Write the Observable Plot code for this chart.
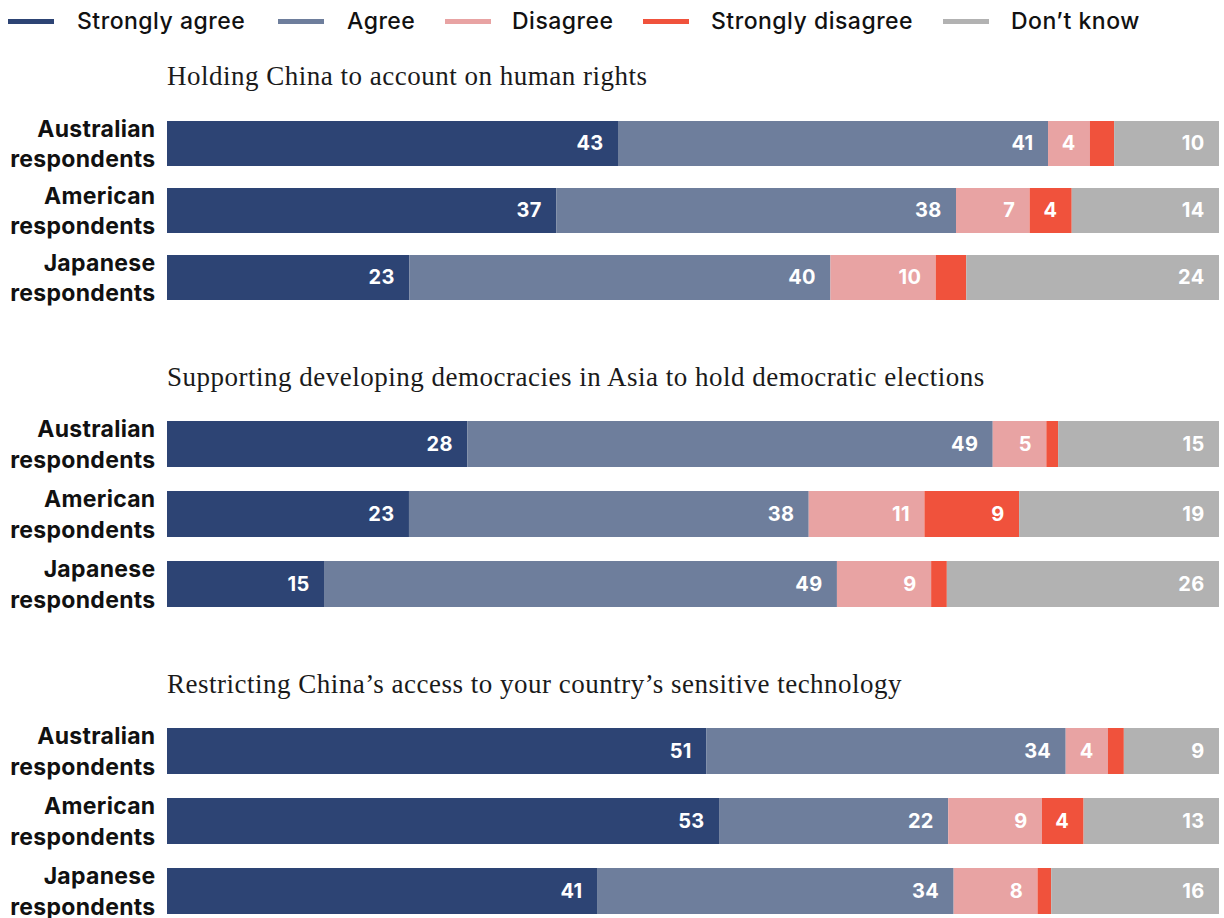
<!DOCTYPE html>
<html>
<head>
<meta charset="utf-8">
<script src="https://cdn.jsdelivr.net/npm/d3@7"></script>
<script src="https://cdn.jsdelivr.net/npm/@observablehq/plot@0.6"></script>
<style>
  html, body { margin: 0; padding: 0; overflow: hidden; background: #fff; }
  #root { position: relative; width: 1224px; height: 918px; }
  .abs { position: absolute; }
  .legtext { font-family: Inter, sans-serif; font-size: 23px; line-height: 22px; font-weight: 500; letter-spacing: 0.5px; color: #111; white-space: nowrap; }
  .swatch { height: 5px; width: 46px; }
  .title { font-family: "Liberation Serif", serif; font-size: 27px; line-height: 26px; letter-spacing: 0.5px; color: #1a1a1a; white-space: nowrap; left: 167px; }
</style>
</head>
<body>
<div id="root"></div>
<script>
// ---- data ----
const categories = ["Strongly agree", "Agree", "Disagree", "Strongly disagree", "Don’t know"];
const colors = ["#2d4474", "#6e7e9c", "#e8a3a3", "#f0523c", "#b2b2b2"];
const countries = ["Australian", "American", "Japanese"];
const questions = [
  "Holding China to account on human rights",
  "Supporting developing democracies in Asia to hold democratic elections",
  "Restricting China’s access to your country’s sensitive technology"
];
// [question][country]
const stronglyAgree    = [[43, 37, 23], [28, 23, 15], [51, 53, 41]];
const agree            = [[41, 38, 40], [49, 38, 49], [34, 22, 34]];
const disagree         = [[4, 7, 10],   [5, 11, 9],   [4, 9, 8]];
const stronglyDisagree = [[2.3, 4, 2.9],[1.1, 9, 1.5],[1.5, 4, 1.3]];
const dontKnow         = [[10, 14, 24], [15, 19, 26], [9, 13, 16]];
const series = [stronglyAgree, agree, disagree, stronglyDisagree, dontKnow];

// ---- layout ----
const root = document.getElementById("root");
const legendSwatchX = [8, 278, 445, 643, 943];
const legendTextX = [77, 347, 512, 711, 1011];
categories.forEach((c, i) => {
  const sw = document.createElement("div");
  sw.className = "abs swatch";
  sw.style.left = legendSwatchX[i] + "px";
  sw.style.top = "19px";
  sw.style.background = colors[i];
  root.appendChild(sw);
  const t = document.createElement("div");
  t.className = "abs legtext";
  t.style.left = legendTextX[i] + "px";
  t.style.top = "10px";
  t.textContent = c;
  root.appendChild(t);
});

const titleTops = [63, 364, 671];
const plotTops = [110, 411, 718];
const plotHeights = [201, 206, 206];
const paddings = [0.323, 0.347, 0.347];

function makePlot(qi) {
  const rows = [];
  countries.forEach((c, ci) => series.forEach((s, si) =>
    rows.push({country: c, category: categories[si], value: s[qi][ci]})));
  return Plot.plot({
    width: 1224,
    height: plotHeights[qi],
    marginLeft: 167, marginRight: 5, marginTop: 10, marginBottom: 10,
    x: {axis: null, domain: [0, 1]},
    y: {axis: null, domain: countries, paddingInner: paddings[qi], paddingOuter: 0},
    color: {domain: categories, range: colors},
    style: {fontFamily: "Inter, sans-serif", overflow: "visible", background: "transparent", letterSpacing: "0.3px"},
    marks: [
      Plot.barX(rows, Plot.stackX({x: "value", y: "country", fill: "category", order: categories, offset: "normalize"})),
      Plot.text(rows, Plot.stackX2({
        x: "value", y: "country", z: "category", order: categories, offset: "normalize",
        text: d => d.value >= 4 ? String(d.value) : "",
        textAnchor: "end", dx: -15, fill: "white", fontWeight: 700, fontSize: 20
      })),
      Plot.text(countries, {
        y: d => d, frameAnchor: "left", text: d => d + "\nrespondents",
        textAnchor: "end", dx: -12, dy: -2, fontWeight: 700, fontSize: 23, lineHeight: 1.33, fill: "#111"
      })
    ]
  });
}

questions.forEach((q, qi) => {
  const t = document.createElement("div");
  t.className = "abs title";
  t.style.top = titleTops[qi] + "px";
  t.textContent = q;
  root.appendChild(t);
  const wrap = document.createElement("div");
  wrap.className = "abs";
  wrap.style.left = "0px";
  wrap.style.top = plotTops[qi] + "px";
  wrap.appendChild(makePlot(qi));
  root.appendChild(wrap);
});
</script>
</body>
</html>
